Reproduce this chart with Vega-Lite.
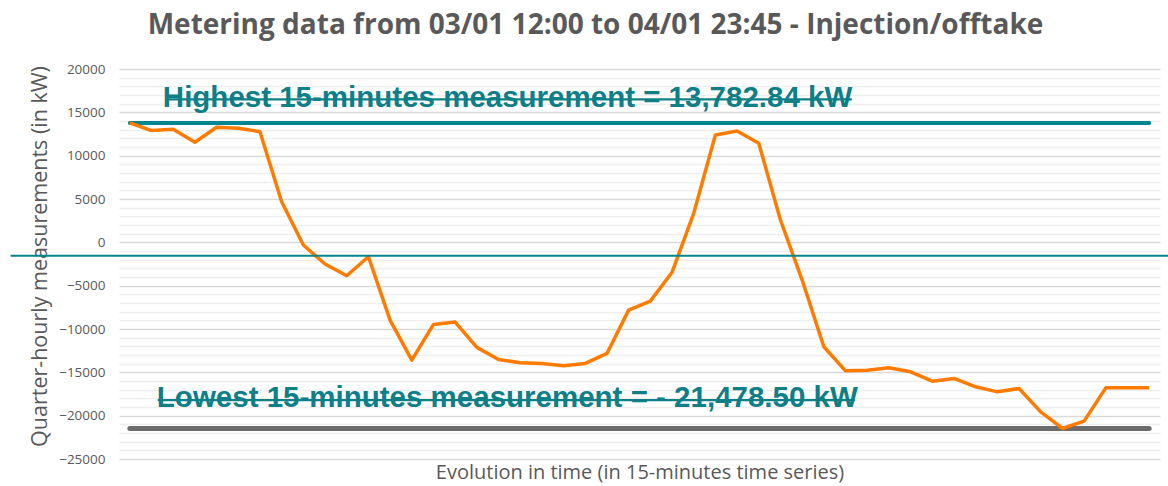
{
  "$schema": "https://vega.github.io/schema/vega-lite/v6.json",
  "width": 1041,
  "height": 390,
  "autosize": {"type": "none"},
  "padding": {"left": 119, "top": 69, "right": 8, "bottom": 27},
  "background": "white",
  "config": {"view": {"stroke": null}},
  "title": {
    "text": "Metering data from 03/01 12:00 to 04/01 23:45 - Injection/offtake",
    "font": "Liberation Sans Narrow, Open Sans",
    "fontSize": 28,
    "fontWeight": "bold",
    "color": "#595959",
    "anchor": "middle",
    "frame": "group",
    "dx": -44,
    "baseline": "alphabetic",
    "offset": 0
  },
  "resolve": {"scale": {"y": "shared", "x": "shared"}, "axis": {"y": "independent"}},
  "datasets": {
    "series": [
      {"i": 0, "kw": 13782.84}, {"i": 1, "kw": 12890}, {"i": 2, "kw": 13050}, {"i": 3, "kw": 11550},
      {"i": 4, "kw": 13280}, {"i": 5, "kw": 13160}, {"i": 6, "kw": 12770}, {"i": 7, "kw": 4690},
      {"i": 8, "kw": -310}, {"i": 9, "kw": -2500}, {"i": 10, "kw": -3850}, {"i": 11, "kw": -1660},
      {"i": 12, "kw": -8970}, {"i": 13, "kw": -13590}, {"i": 14, "kw": -9470}, {"i": 15, "kw": -9200},
      {"i": 16, "kw": -12120}, {"i": 17, "kw": -13510}, {"i": 18, "kw": -13900}, {"i": 19, "kw": -13970},
      {"i": 20, "kw": -14250}, {"i": 21, "kw": -13970}, {"i": 22, "kw": -12820}, {"i": 23, "kw": -7820},
      {"i": 24, "kw": -6780}, {"i": 25, "kw": -3460}, {"i": 26, "kw": 3350}, {"i": 27, "kw": 12390},
      {"i": 28, "kw": 12850}, {"i": 29, "kw": 11430}, {"i": 30, "kw": 2580}, {"i": 31, "kw": -4350},
      {"i": 32, "kw": -12050}, {"i": 33, "kw": -14830}, {"i": 34, "kw": -14750}, {"i": 35, "kw": -14480},
      {"i": 36, "kw": -14940}, {"i": 37, "kw": -16020}, {"i": 38, "kw": -15710}, {"i": 39, "kw": -16670},
      {"i": 40, "kw": -17250}, {"i": 41, "kw": -16860}, {"i": 42, "kw": -19560}, {"i": 43, "kw": -21478.5},
      {"i": 44, "kw": -20630}, {"i": 45, "kw": -16790}, {"i": 46, "kw": -16790}, {"i": 47, "kw": -16790}
    ],
    "extremes": [
      {"kind": "max", "value": 13782.84, "label": "Highest 15-minutes measurement = 13,782.84 kW"},
      {"kind": "min", "value": -21478.5, "label": "Lowest 15-minutes measurement = - 21,478.50 kW"}
    ]
  },
  "layer": [
    {
      "data": {"name": "series"},
      "mark": {"type": "line", "opacity": 0},
      "encoding": {
        "x": {
          "field": "i", "type": "quantitative",
          "scale": {"domain": [-0.5, 47.5], "nice": false, "zero": false},
          "axis": {
            "labels": false, "ticks": false, "domain": false, "grid": false,
            "title": "Evolution in time (in 15-minutes time series)",
            "titleFont": "Open Sans", "titleFontSize": 20, "titleFontWeight": "normal",
            "titleColor": "#595959", "titlePadding": 3
          }
        },
        "y": {
          "field": "kw", "type": "quantitative",
          "scale": {"domain": [-25000, 20000], "nice": false, "zero": false},
          "axis": {
            "orient": "left",
            "values": [-24000,-23000,-22000,-21000,-19000,-18000,-17000,-16000,-14000,-13000,-12000,-11000,-9000,-8000,-7000,-6000,-4000,-3000,-2000,-1000,1000,2000,3000,4000,6000,7000,8000,9000,11000,12000,13000,14000,16000,17000,18000,19000],
            "labels": false, "ticks": false, "domain": false, "title": null,
            "grid": true, "gridColor": "#eeeeee", "gridWidth": 1.5
          }
        }
      }
    },
    {
      "data": {"name": "extremes"},
      "transform": [{"filter": "datum.kind === 'min'"}],
      "mark": {"type": "rule", "color": "#6B6B6B", "strokeWidth": 5, "strokeCap": "round"},
      "encoding": {"y": {"field": "value", "type": "quantitative", "axis": null}, "x": {"datum": 0}, "x2": {"datum": 47}}
    },
    {
      "data": {"name": "extremes"},
      "transform": [{"filter": "datum.kind === 'max'"}],
      "mark": {"type": "rule", "color": "#00868F", "strokeWidth": 4, "strokeCap": "round"},
      "encoding": {"y": {"field": "value", "type": "quantitative", "axis": null}, "x": {"datum": 0}, "x2": {"datum": 47}}
    },
    {
      "data": {"name": "series"},
      "mark": {"type": "line", "color": "#FF7B00", "strokeWidth": 3.5, "strokeJoin": "round"},
      "encoding": {
        "x": {"field": "i", "type": "quantitative"},
        "y": {
          "field": "kw", "type": "quantitative",
          "axis": {
            "orient": "left",
            "values": [-25000,-20000,-15000,-10000,-5000,0,5000,10000,15000,20000],
            "format": "d",
            "labelFont": "Open Sans", "labelFontSize": 13.5, "labelColor": "#595959", "labelPadding": 14,
            "ticks": false, "domain": false,
            "grid": true, "gridColor": "#d9d9d9", "gridWidth": 1.5,
            "title": "Quarter-hourly measurements (in kW)",
            "titleFont": "Open Sans", "titleFontSize": 21.5, "titleFontWeight": "normal",
            "titleColor": "#595959", "titlePadding": 7, "titleY": 187
          }
        }
      }
    },
    {
      "data": {"values": [{}]},
      "mark": {"type": "rule", "color": "#00868B", "strokeWidth": 2},
      "encoding": {"y": {"datum": -1560, "axis": null}, "x": {"datum": -5.5}, "x2": {"datum": 48}}
    },
    {
      "data": {"name": "extremes"},
      "transform": [{"filter": "datum.kind === 'max'"}],
      "mark": {"type": "text", "align": "left", "baseline": "alphabetic", "font": "Liberation Sans, Arial", "fontSize": 29.5, "fontWeight": "bold", "color": "#0E7F86", "dx": 33, "dy": -16},
      "encoding": {"x": {"datum": 0}, "y": {"field": "value", "type": "quantitative", "axis": null}, "text": {"field": "label"}}
    },
    {
      "data": {"name": "extremes"},
      "transform": [{"filter": "datum.kind === 'min'"}],
      "mark": {"type": "text", "align": "left", "baseline": "alphabetic", "font": "Liberation Sans, Arial", "fontSize": 29.5, "fontWeight": "bold", "color": "#0E7F86", "dx": 27, "dy": -21.6},
      "encoding": {"x": {"datum": 0}, "y": {"field": "value", "type": "quantitative", "axis": null}, "text": {"field": "label"}}
    },
    {
      "data": {"name": "extremes"},
      "transform": [{"filter": "datum.kind === 'max'"}],
      "mark": {"type": "rule", "color": "#0E7F86", "strokeWidth": 2.2, "yOffset": -23.5},
      "encoding": {"y": {"field": "value", "type": "quantitative", "axis": null}, "x": {"datum": 1.667}, "x2": {"datum": 33.29}}
    },
    {
      "data": {"name": "extremes"},
      "transform": [{"filter": "datum.kind === 'min'"}],
      "mark": {"type": "rule", "color": "#0E7F86", "strokeWidth": 2.2, "yOffset": -28.3},
      "encoding": {"y": {"field": "value", "type": "quantitative", "axis": null}, "x": {"datum": 1.284}, "x2": {"datum": 33.43}}
    }
  ]
}
